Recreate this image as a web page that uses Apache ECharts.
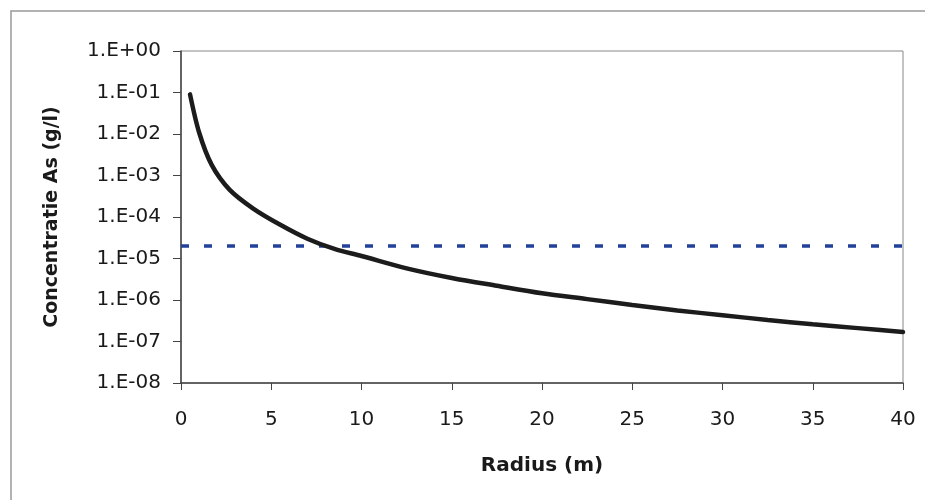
<!DOCTYPE html>
<html>
<head>
<meta charset="utf-8">
<script src="https://cdn.jsdelivr.net/npm/echarts@6/dist/echarts.min.js"></script>
<style>
  html, body { margin: 0; padding: 0; background: #fff; }
  #show_picture { width: 925px; height: 500px; }
</style>
</head>
<body>
<div id="show_picture"></div>
<script>
// radius (m) and concentration As (g/l)
const radius = [0.5, 1, 1.7, 2.7, 4, 5.5, 7, 8.5, 10, 12.5, 15, 17.5, 20, 22.5, 25, 27.5, 30, 32.5, 35, 37.5, 40];
const conc = [9e-2, 1.1e-2, 1.8e-3, 4.5e-4, 1.6e-4, 6.5e-5, 3e-5, 1.7e-5, 1.15e-5, 5.8e-6, 3.4e-6, 2.2e-6,
    1.45e-6, 1.05e-6, 7.6e-7, 5.6e-7, 4.3e-7, 3.3e-7, 2.6e-7, 2.1e-7, 1.7e-7];
// norm line (dashed)
const normX = [0, 40];
const normValue = 2e-5;

let myChart = echarts.init(document.getElementById('show_picture'));

let curve = radius.map((r, i) => [r, conc[i]]);
let norm = normX.map(r => [r, normValue]);

const font = 'DejaVu Sans';

let option = {
    animation: false,
    backgroundColor: '#fff',
    graphic: [{
        // chart frame, only top and left edges are visible in the scan
        type: 'polyline',
        shape: { points: [[11, 600], [11, 11], [1200, 11]] },
        style: { fill: null, stroke: '#999', lineWidth: 1.5 },
        silent: true
    }],
    grid: {
        left: 181, top: 51, right: 22, bottom: 117,
        show: true, borderColor: '#888', borderWidth: 1
    },
    xAxis: {
        type: 'value',
        min: 0, max: 40, interval: 5,
        name: 'Radius (m)',
        nameLocation: 'middle',
        nameGap: 73,
        nameTextStyle: { fontFamily: font, fontWeight: 'bold', fontSize: 20, color: '#1a1a1a' },
        axisLine: { lineStyle: { color: '#444', width: 1.5 } },
        axisTick: { show: true, inside: false, length: 7, lineStyle: { color: '#444' } },
        axisLabel: { fontFamily: font, fontSize: 20, color: '#1a1a1a', margin: 27 },
        splitLine: { show: false }
    },
    yAxis: {
        type: 'log',
        logBase: 10,
        min: 1e-8, max: 1,
        interval: 1,
        name: 'Concentratie As (g/l)',
        nameLocation: 'middle',
        nameGap: 119,
        nameTextStyle: { fontFamily: font, fontWeight: 'bold', fontSize: 19, color: '#1a1a1a' },
        axisLine: { show: true, lineStyle: { color: '#444', width: 1.5 } },
        axisTick: { show: true, inside: false, length: 8, lineStyle: { color: '#444' } },
        axisLabel: {
            fontFamily: font, fontSize: 20, color: '#1a1a1a', margin: 20,
            formatter: function (v) {
                let e = Math.round(Math.log10(v));
                return '1.E' + (e < 0 ? '-' : '+') + String(Math.abs(e)).padStart(2, '0');
            }
        },
        splitLine: { show: false }
    },
    series: [
        {
            type: 'line',
            data: norm,
            showSymbol: false,
            lineStyle: { color: '#22429a', width: 3.5, type: [8, 15] },
            z: 2
        },
        {
            type: 'line',
            data: curve,
            showSymbol: false,
            smooth: 0.3,
            lineStyle: { color: '#1c1c1c', width: 4.5, cap: 'round' },
            z: 3
        }
    ]
};

option && myChart.setOption(option);
</script>
</body>
</html>
